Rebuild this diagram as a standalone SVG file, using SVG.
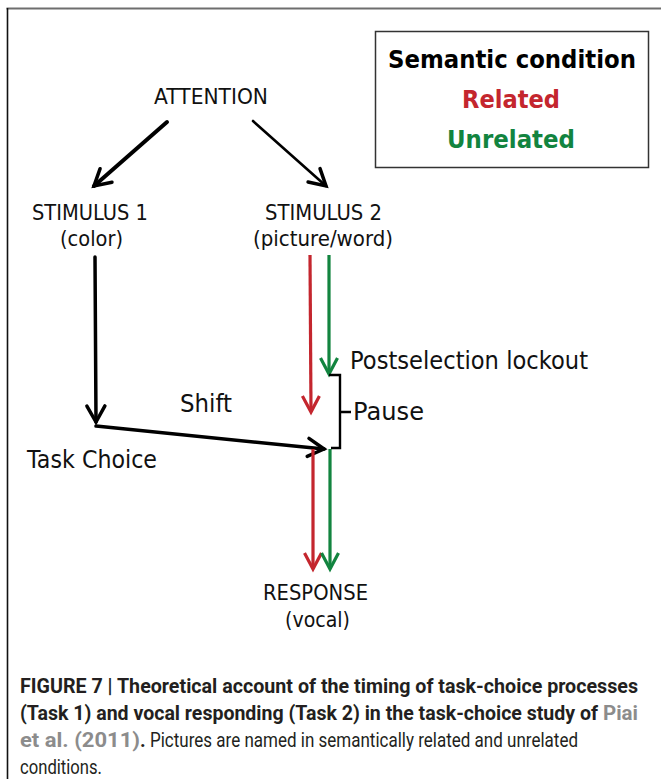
<svg xmlns="http://www.w3.org/2000/svg" width="661" height="779" viewBox="0 0 661 779">
<defs>
<style>
.lbl{font-family:"DejaVu Sans","Liberation Sans",sans-serif;font-size:21px;fill:#111;text-anchor:start}
.big{font-size:25px}
.leg{font-family:"DejaVu Sans","Liberation Sans",sans-serif;font-weight:bold;font-size:25px}
.cap{font-family:Roboto,"Liberation Sans",sans-serif;font-size:19.5px;fill:#231f20}
.b{font-weight:bold}
.ref{fill:#8c8c8c;font-weight:bold}
.k{stroke:#000;fill:none;stroke-linecap:round;stroke-linejoin:round}
.r{stroke:#c4262e;fill:none;stroke-width:3.2}
.g{stroke:#12843f;fill:none;stroke-width:3.2}
</style>
<marker id="ahK" markerUnits="userSpaceOnUse" viewBox="-20 -12 24 24" refX="0" refY="0" markerWidth="24" markerHeight="24" orient="auto">
<path d="M-16,-9 L0,0 L-16,9" fill="none" stroke="#000" stroke-width="3.5" stroke-linecap="round" stroke-linejoin="miter"/>
</marker>
<marker id="ahR" markerUnits="userSpaceOnUse" viewBox="-20 -12 24 24" refX="0" refY="0" markerWidth="24" markerHeight="24" orient="auto">
<path d="M-16,-8.5 L0,0 L-16,8.5" fill="none" stroke="#c4262e" stroke-width="3.2" stroke-linejoin="miter"/>
</marker>
<marker id="ahG" markerUnits="userSpaceOnUse" viewBox="-20 -12 24 24" refX="0" refY="0" markerWidth="24" markerHeight="24" orient="auto">
<path d="M-16,-8.5 L0,0 L-16,8.5" fill="none" stroke="#12843f" stroke-width="3.2" stroke-linejoin="miter"/>
</marker>
</defs>
<rect width="661" height="779" fill="#fff"/>
<g id="frame">
<line x1="6.5" y1="8.5" x2="661" y2="8.5" stroke="#6e6e6e" stroke-width="2.2"/>
<line x1="7.5" y1="8" x2="7.5" y2="779" stroke="#111" stroke-width="1.6"/>
</g>
<g id="legend">
<rect x="375.5" y="31.5" width="273" height="136" fill="#fff" stroke="#333" stroke-width="1.5"/>
<text class="leg" x="388" y="68" textLength="248" lengthAdjust="spacingAndGlyphs" fill="#000">Semantic condition</text>
<text class="leg" x="462" y="108" textLength="98" lengthAdjust="spacingAndGlyphs" fill="#c4262e">Related</text>
<text class="leg" x="447" y="148" textLength="128" lengthAdjust="spacingAndGlyphs" fill="#12843f">Unrelated</text>
</g>
<g id="attention"><text class="lbl" x="154" y="104" textLength="114" lengthAdjust="spacingAndGlyphs">ATTENTION</text></g>
<g id="stimulus1">
<text class="lbl" x="32" y="220" textLength="116" lengthAdjust="spacingAndGlyphs">STIMULUS 1</text>
<text class="lbl" x="60" y="246" textLength="63" lengthAdjust="spacingAndGlyphs">(color)</text>
</g>
<g id="stimulus2">
<text class="lbl" x="265" y="220" textLength="117" lengthAdjust="spacingAndGlyphs">STIMULUS 2</text>
<text class="lbl" x="253" y="246" textLength="140" lengthAdjust="spacingAndGlyphs">(picture/word)</text>
</g>
<g id="shift"><text class="lbl big" x="180" y="412" textLength="52" lengthAdjust="spacingAndGlyphs">Shift</text></g>
<g id="taskchoice"><text class="lbl big" x="27" y="468" textLength="130" lengthAdjust="spacingAndGlyphs">Task Choice</text></g>
<g id="postselection"><text class="lbl big" x="350" y="369" textLength="238" lengthAdjust="spacingAndGlyphs">Postselection lockout</text></g>
<g id="pause"><text class="lbl big" x="353" y="420" textLength="71" lengthAdjust="spacingAndGlyphs">Pause</text></g>
<g id="response">
<text class="lbl" x="263" y="600" textLength="105" lengthAdjust="spacingAndGlyphs">RESPONSE</text>
<text class="lbl" x="285" y="627" textLength="65" lengthAdjust="spacingAndGlyphs">(vocal)</text>
</g>
<g id="connectors">
<line class="k" x1="167" y1="122" x2="94" y2="186" stroke-width="4" marker-end="url(#ahK)"/>
<line class="k" x1="253" y1="121" x2="326" y2="186" stroke-width="2.6" marker-end="url(#ahK)"/>
<line class="k" x1="95" y1="257" x2="96" y2="422" stroke-width="3.5" marker-end="url(#ahK)"/>
<line class="k" x1="96" y1="426" x2="324" y2="449" stroke-width="3.5" marker-end="url(#ahK)"/>
<line class="r" x1="310" y1="255" x2="311" y2="412" marker-end="url(#ahR)"/>
<line class="g" x1="329" y1="255" x2="329" y2="374" marker-end="url(#ahG)"/>
<line class="r" x1="313" y1="449" x2="313" y2="569" marker-end="url(#ahR)"/>
<line class="g" x1="330" y1="449" x2="330" y2="569" marker-end="url(#ahG)"/>
<path d="M329,375 L340,375 L340,448 L331,448 M340,412 L351,412" fill="none" stroke="#000" stroke-width="2.4"/>
</g>
<g id="caption">
<text class="cap b" x="20" y="693" textLength="618" lengthAdjust="spacingAndGlyphs">FIGURE 7 | Theoretical account of the timing of task-choice processes</text>
<text class="cap b" y="720"><tspan x="20" textLength="578" lengthAdjust="spacingAndGlyphs">(Task 1) and vocal responding (Task 2) in the task-choice study of</tspan><tspan class="ref" x="603" textLength="35" lengthAdjust="spacingAndGlyphs">Piai</tspan></text>
<text class="cap" y="747"><tspan class="ref" x="20" textLength="120" lengthAdjust="spacingAndGlyphs">et al. (2011)</tspan><tspan class="b" x="140">.</tspan><tspan x="150" textLength="428" lengthAdjust="spacingAndGlyphs">Pictures are named in semantically related and unrelated</tspan></text>
<text class="cap" x="20" y="774" textLength="82" lengthAdjust="spacingAndGlyphs">conditions.</text>
</g>
</svg>
